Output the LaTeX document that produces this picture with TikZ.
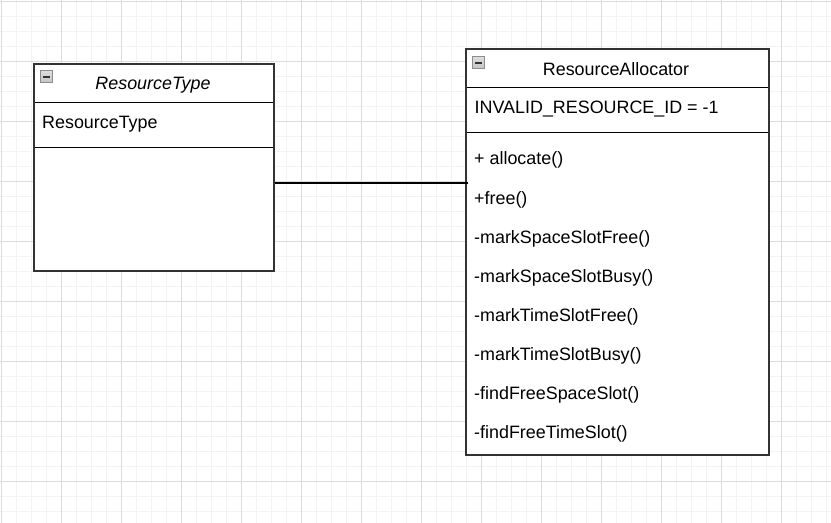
\documentclass[tikz,border=0pt]{standalone}
\usepackage{fontspec}
\setmainfont{Liberation Sans}
\definecolor{minorgrid}{HTML}{F3F3F3}
\definecolor{majorgrid}{HTML}{DCDCDC}
\definecolor{boxline}{HTML}{333333}
\definecolor{iconfill}{HTML}{C4C4C4}
\definecolor{iconedge}{HTML}{8C8C8C}
\begin{document}
\begin{tikzpicture}[x=1bp,y=-1bp,
  minor/.style={draw=minorgrid,line width=1bp},
  major/.style={draw=majorgrid,line width=1bp},
  classbox/.style={draw=boxline,line width=2bp,fill=none,rectangle,inner sep=0pt,anchor=north west},
  sepline/.style={draw=black,line width=1.3bp},
  conn/.style={draw=black,line width=1.5bp},
  txt/.style={inner sep=0pt,anchor=base west,font=\fontsize{17.9bp}{20bp}\selectfont},
  ctxt/.style={inner sep=0pt,anchor=base,font=\fontsize{17.9bp}{20bp}\selectfont},
  iconbox/.style={rectangle,draw=iconedge,line width=1bp,top color=iconfill!60,bottom color=iconfill,minimum size=12bp,inner sep=0pt},
  minus/.style={draw=boxline,line width=2bp}
]
\useasboundingbox (0,0) rectangle (831,523);
\fill[white] (0,0) rectangle (831,523);
% grid
\foreach \i in {0,...,55} \draw[minor] (1.5+15*\i,0) -- (1.5+15*\i,523);
\foreach \i in {0,...,34} \draw[minor] (0,1.5+15*\i) -- (831,1.5+15*\i);
\foreach \i in {0,...,13} \draw[major] (1.5+60*\i,0) -- (1.5+60*\i,523);
\foreach \i in {0,...,8} \draw[major] (0,1.5+60*\i) -- (831,1.5+60*\i);

% ResourceType class
\node[classbox,fill=white,minimum width=240bp,minimum height=207bp] (rt) at (33,63) {};
\draw[sepline] (33,102.3) -- (273,102.3);
\draw[sepline] (33,147.3) -- (273,147.3);
\node[classbox,minimum width=240bp,minimum height=207bp] at (33,63) {};
\node[iconbox] (rticon) at (46.3,77) {};
\draw[minus] ([xshift=-3.5bp]rticon.center) -- ([xshift=3.5bp]rticon.center);
\node[ctxt,font=\fontsize{17.9bp}{20bp}\selectfont\itshape] (rttitle) at (153,90) {ResourceType};
\node[txt] (rtattr) at (42,129) {ResourceType};

% ResourceAllocator class
\node[classbox,fill=white,minimum width=302.5bp,minimum height=405bp] (ra) at (465,48.5) {};
\draw[sepline] (465,87.3) -- (767.5,87.3);
\draw[sepline] (465,132.7) -- (767.5,132.7);
\node[classbox,minimum width=302.5bp,minimum height=405bp] at (465,48.5) {};
\node[iconbox] (raicon) at (478.5,63) {};
\draw[minus] ([xshift=-3.5bp]raicon.center) -- ([xshift=3.5bp]raicon.center);
\node[ctxt] (ratitle) at (616,75.3) {ResourceAllocator};
\node[txt] (raattr) at (474.5,114) {INVALID\_RESOURCE\_ID = -1};
\node[txt] (m1) at (474,165) {+ allocate()};
\node[txt] (m2) at (474,204.2) {+free()};
\node[txt] (m3) at (474,243.2) {-markSpaceSlotFree()};
\node[txt] (m4) at (474,282.2) {-markSpaceSlotBusy()};
\node[txt] (m5) at (474,321.2) {-markTimeSlotFree()};
\node[txt] (m6) at (474,360.2) {-markTimeSlotBusy()};
\node[txt] (m7) at (474,399.2) {-findFreeSpaceSlot()};
\node[txt] (m8) at (474,438) {-findFreeTimeSlot()};

% connector
\draw[conn] (rt.east |- 0,183) -- ([xshift=2.5bp]ra.west |- 0,183);
\end{tikzpicture}
\end{document}
